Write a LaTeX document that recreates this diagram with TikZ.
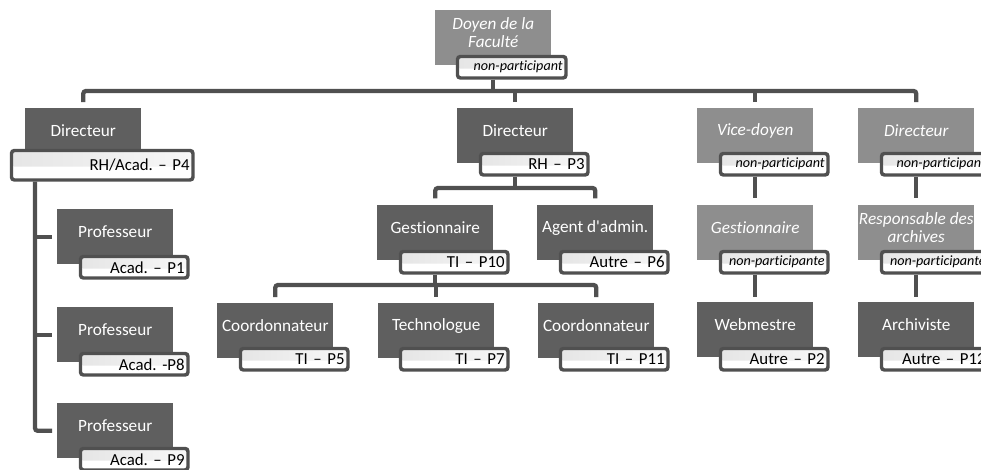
\documentclass[tikz,border=0pt]{standalone}
\usepackage{fontspec}
\setmainfont{Carlito}[Ligatures={TeX,NoCommon}]
\usetikzlibrary{calc}
\definecolor{boxdark}{HTML}{5F5F5F}
\definecolor{boxmed}{HTML}{8E8E8E}
\definecolor{linegray}{HTML}{505050}
\frenchspacing
\tikzset{
  orgbox/.style={rectangle, draw=none, minimum width=87pt, minimum height=41.25pt, inner sep=0pt, anchor=north west},
  darkbox/.style={orgbox, fill=boxdark},
  medbox/.style={orgbox, fill=boxmed},
  titletext/.style={text=white, font=\fontsize{12.9}{13.5}\selectfont, align=center, inner sep=0pt},
  ititle/.style={text=white, font=\fontsize{12.9}{13.5}\selectfont\itshape, align=center, inner sep=0pt},
  labbox/.style={rectangle, draw=linegray, line width=2.6pt, rounded corners=2.2pt, fill=white,
    anchor=north west, inner xsep=2.5pt, inner ysep=0pt, align=right,
    font=\fontsize{12.6}{13}\selectfont,
    path picture={\fill[left color=black!10, right color=black!3]
      (path picture bounding box.north west) rectangle ($(path picture bounding box.east)+(0,-1pt)$);}},
  conn/.style={draw=linegray, line width=3.2pt, rounded corners=2pt},
}
\newcommand\orgbox[6]{% name, box style, title style, x, y, title
  \node[#2] (#1) at (#4,#5) {};
  \node[#3] (#1-t) at ($(#1.north)+(0,23)$) {#6};
}
\newcommand\orglab[6][25]{% height px; name, x, y, width px, text
  \node[labbox, minimum height={(#1-3.5)*0.75pt}, text width={(#5-3.5)*0.75pt-5pt}] (#2) at (#3+1.75,#4+1.75) {#6};
}
\newcommand\nonp[1]{{\fontsize{10.6}{11}\selectfont\itshape #1}}
\begin{document}
\begin{tikzpicture}[x=0.75pt,y=-0.75pt]
\useasboundingbox (0,0) rectangle (981,469);
\clip (0,0) rectangle (981,469);
% boxes
\orgbox{doyen}{medbox}{ititle}{435}{10}{Doyen de la\\Faculté}
\orgbox{dirL}{darkbox}{titletext}{25}{108}{Directeur}
\orgbox{prof1}{darkbox}{titletext}{57}{209}{Professeur}
\orgbox{prof2}{darkbox}{titletext}{57}{307}{Professeur}
\orgbox{prof3}{darkbox}{titletext}{57}{403}{Professeur}
\orgbox{dirM}{darkbox}{titletext}{457}{108}{Directeur}
\orgbox{gest}{darkbox}{titletext}{377}{205}{Gestionnaire}
\orgbox{agent}{darkbox}{titletext}{537}{205}{Agent d\textquotesingle admin.}
\orgbox{coord1}{darkbox}{titletext}{217}{303}{Coordonnateur}
\orgbox{techno}{darkbox}{titletext}{378}{303}{Technologue}
\orgbox{coord2}{darkbox}{titletext}{538}{303}{Coordonnateur}
\orgbox{vice}{medbox}{ititle}{697}{108}{Vice-doyen}
\orgbox{dirR}{medbox}{ititle}{858}{108}{Directeur}
\orgbox{gestR}{medbox}{ititle}{697}{205}{Gestionnaire}
\orgbox{resp}{medbox}{ititle}{858}{205}{Responsable des\\archives}
\orgbox{webm}{darkbox}{titletext}{697}{302}{Webmestre}
\orgbox{archi}{darkbox}{titletext}{858}{302}{Archiviste}
% labels
\orglab{doyenL}{454}{53}{112}{\nonp{non-participant}}
\orglab[33]{dirLl}{8}{147}{185}{RH/Acad. – P4}
\orglab{prof1l}{77}{253}{111}{Acad. – P1}
\orglab{prof2l}{77}{350}{111}{Acad. -P8}
\orglab{prof3l}{77}{445}{111}{Acad. – P9}
\orglab{dirMl}{477}{150}{111}{RH – P3}
\orglab{gestl}{397}{248}{111}{TI – P10}
\orglab{agentl}{557}{248}{111}{Autre – P6}
\orglab{coord1l}{237}{345}{111}{TI – P5}
\orglab{technol}{397}{345}{111}{TI – P7}
\orglab{coord2l}{557}{345}{111}{TI – P11}
\orglab{vicel}{717}{150}{111}{\nonp{non-participant}}
\orglab{dirRl}{878}{150}{111}{\nonp{non-participant}}
\orglab{gestRl}{717}{248}{111}{\nonp{non-participante}}
\orglab{respl}{878}{248}{111}{\nonp{non-participante}}
\orglab{webml}{717}{345}{111}{Autre – P2}
\orglab{archil}{878}{345}{111}{Autre – P12}
% connectors
\coordinate (bus) at (0,91);
\coordinate (bus2) at (0,188);
\coordinate (bus3) at (0,285);
\coordinate (lv) at (35,0);
\draw[conn] ([yshift=4.5pt]dirL.north) -- (dirL.north |- bus) -- (dirR.north |- bus) -- ([yshift=4.5pt]dirR.north);
\draw[conn] (doyen |- doyenL.south) -- (doyen |- bus);
\draw[conn] ([yshift=4.5pt]dirM.north) -- (dirM.north |- bus);
\draw[conn] ([yshift=4.5pt]vice.north) -- (vice.north |- bus);
\draw[conn] (lv |- dirLl.south) |- ([xshift=-3.75pt]prof3.west);
\draw[conn] (lv |- prof1.west) -- ([xshift=-3.75pt]prof1.west);
\draw[conn] (lv |- prof2.west) -- ([xshift=-3.75pt]prof2.west);
\draw[conn] (dirM |- dirMl.south) -- (dirM |- bus2);
\draw[conn] ([yshift=5pt]gest.north) -- (gest |- bus2) -- (agent |- bus2) -- ([yshift=5pt]agent.north);
\draw[conn] (gest |- gestl.south) -- (gest |- bus3);
\draw[conn] ([yshift=4.5pt]coord1.north) -- (coord1 |- bus3) -- (coord2 |- bus3) -- ([yshift=4.5pt]coord2.north);
\draw[conn] (techno |- bus3) -- ([yshift=4.5pt]techno.north);
\draw[conn] (vice |- vicel.south) -- ([yshift=5pt]gestR.north);
\draw[conn] (dirR |- dirRl.south) -- ([yshift=5pt]resp.north);
\draw[conn] (gestR |- gestRl.south) -- ([yshift=4pt]webm.north);
\draw[conn] (resp |- respl.south) -- ([yshift=4pt]archi.north);
\end{tikzpicture}
\end{document}
